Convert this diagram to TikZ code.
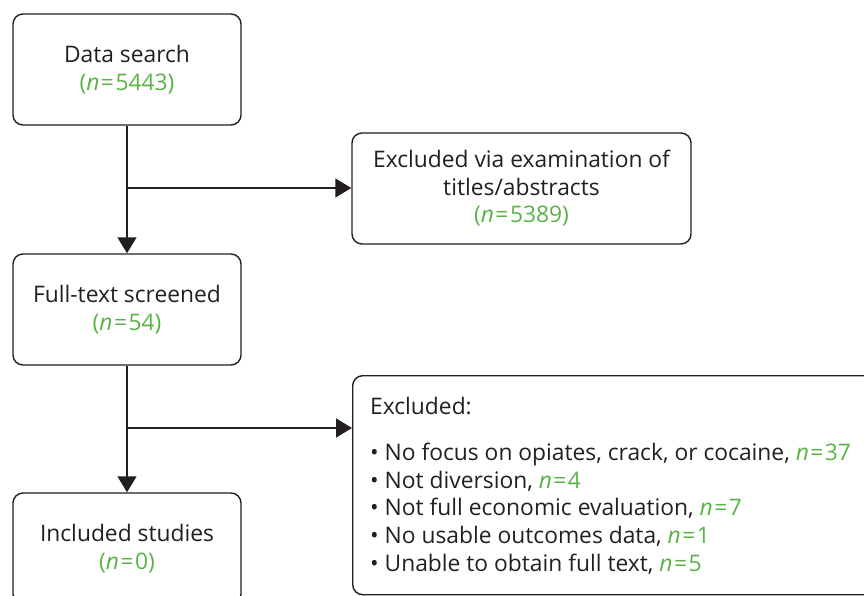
\documentclass[tikz,border=0pt]{standalone}
\usepackage{fontspec}
\setmainfont{Open Sans}
\usetikzlibrary{arrows.meta}
\definecolor{grn}{RGB}{90,178,70}
\definecolor{ink}{RGB}{35,31,32}
\newcommand{\gn}[1]{{\color{grn}#1}}
\newcommand{\nv}[1]{\gn{\textit{n}\kern1.5pt=\kern1.5pt#1}}
\begin{document}
\begin{tikzpicture}[x=1pt,y=-1pt,
  every node/.style={font=\fontsize{22.8}{27.5}\selectfont, text=ink},
  box/.style={draw=ink, line width=1.4pt, rounded corners=10pt,
    minimum width=228pt, minimum height=111pt, align=center, inner sep=0pt},
  arr/.style={draw=ink, line width=1.4pt, -{Triangle[width=19pt,length=16pt]}}]
\useasboundingbox (0,0) rectangle (864,596);
\clip (0,0) rectangle (864,596);
\node[box] (box1) at (127,69.5) {Data search\\\gn{(\textit{n}\kern1.5pt=\kern1.5pt5443)}};
\node[box, minimum width=339pt] (box2) at (521.5,188.5) {Excluded via examination of\\titles/abstracts\\\gn{(\textit{n}\kern1.5pt=\kern1.5pt5389)}};
\node[box] (box3) at (127,309.5) {Full-text screened\\\gn{(\textit{n}\kern1.5pt=\kern1.5pt54)}};
\node[box, anchor=north west, minimum width=560pt, minimum height=219pt] (box4) at (352,375) {};
\node[anchor=north west, align=left, inner sep=0pt, font=\fontsize{22.8}{27.8}\selectfont] (list) at (370,397) {Excluded:\\[18pt]
\textbullet\ No focus on opiates, crack, or cocaine, \nv{37}\\
\textbullet\ Not diversion, \nv{4}\\
\textbullet\ Not full economic evaluation, \nv{7}\\
\textbullet\ No usable outcomes data, \nv{1}\\
\textbullet\ Unable to obtain full text, \nv{5}};
\node[box] (box5) at (127,548.5) {Included studies\\\gn{(\textit{n}\kern1.5pt=\kern1.5pt0)}};
\coordinate (j1) at (127,188);
\coordinate (j2) at (127,428);
\draw[arr] (box1) -- (box3);
\draw[arr] (box3) -- (box5);
\draw[arr] (j1) -- (j1 -| box2.west);
\draw[arr] (j2) -- (j2 -| box4.west);
\end{tikzpicture}
\end{document}
